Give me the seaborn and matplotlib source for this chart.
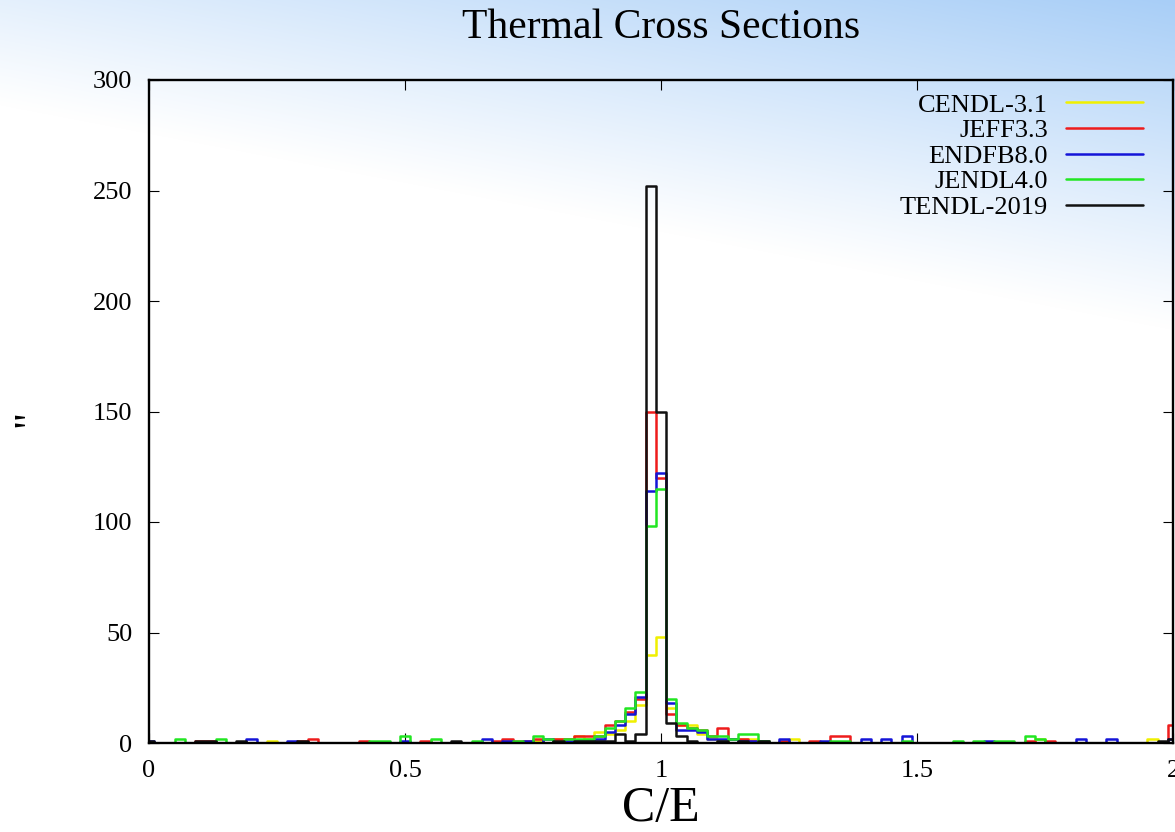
import numpy as np
import pandas as pd
import matplotlib
matplotlib.use("Agg")
import matplotlib.pyplot as plt
import seaborn as sns
from matplotlib.lines import Line2D

# ---- data: C/E histogram counts, bins of width 0.02 centred on multiples of 0.02 ----
libraries = ["CENDL-3.1", "JEFF3.3", "ENDFB8.0", "JENDL4.0", "TENDL-2019"]
colors = ["#f0f000", "#ee1c1c", "#1414d8", "#22e622", "#111111"]

cendl_ce = [0.24, 0.76, 0.80, 0.82, 0.84, 0.86, 0.88, 0.90, 0.92, 0.94, 0.96, 0.98,
            1.00, 1.02, 1.04, 1.06, 1.08, 1.10, 1.12, 1.14, 1.16, 1.18, 1.20, 1.26,
            1.74, 1.96]
cendl_n = [1, 1, 2, 2, 3, 2, 5, 4, 6, 10, 17, 40,
           48, 16, 8, 8, 4, 2, 1, 2, 2, 2, 1, 2,
           2, 2]

jeff_ce = [0.10, 0.12, 0.30, 0.32, 0.42, 0.54, 0.68, 0.70, 0.72, 0.74, 0.76, 0.80,
           0.82, 0.84, 0.86, 0.88, 0.90, 0.92, 0.94, 0.96, 0.98, 1.00, 1.02, 1.04,
           1.06, 1.08, 1.10, 1.12, 1.14, 1.16, 1.18, 1.20, 1.24, 1.30, 1.34, 1.36,
           1.72, 1.76, 2.00]
jeff_n = [1, 1, 1, 2, 1, 1, 1, 2, 1, 1, 2, 2,
          2, 3, 3, 3, 8, 10, 14, 20, 150, 120, 13, 8,
          7, 6, 3, 7, 2, 2, 1, 1, 1, 1, 3, 3,
          1, 1, 8]

endfb_ce = [0.00, 0.20, 0.28, 0.50, 0.66, 0.70, 0.74, 0.78, 0.82, 0.84, 0.86, 0.88,
            0.90, 0.92, 0.94, 0.96, 0.98, 1.00, 1.02, 1.04, 1.06, 1.08, 1.10, 1.12,
            1.14, 1.16, 1.18, 1.20, 1.24, 1.32, 1.40, 1.44, 1.48, 1.64, 1.82, 1.88,
            2.00]
endfb_n = [1, 2, 1, 1, 2, 1, 1, 2, 1, 1, 1, 2,
           5, 8, 13, 21, 114, 122, 18, 6, 6, 5, 2, 2,
           2, 1, 1, 1, 2, 1, 2, 2, 3, 1, 2, 2,
           2]

jendl_ce = [0.06, 0.14, 0.44, 0.46, 0.50, 0.56, 0.64, 0.72, 0.76, 0.78, 0.82, 0.84,
            0.86, 0.88, 0.90, 0.92, 0.94, 0.96, 0.98, 1.00, 1.02, 1.04, 1.06, 1.08,
            1.10, 1.12, 1.14, 1.16, 1.18, 1.20, 1.34, 1.36, 1.48, 1.58, 1.62, 1.66,
            1.68, 1.72, 1.74]
jendl_n = [2, 2, 1, 1, 3, 2, 1, 1, 3, 2, 2, 2,
           2, 3, 7, 10, 16, 23, 98, 115, 20, 9, 7, 6,
           3, 3, 2, 4, 4, 1, 1, 1, 1, 1, 1, 1,
           1, 3, 2]

tendl_ce = [0.00, 0.10, 0.12, 0.18, 0.30, 0.60, 0.80, 0.84, 0.86, 0.88, 0.90, 0.92,
            0.94, 0.96, 0.98, 1.00, 1.02, 1.04, 1.06, 1.12, 1.16, 1.20, 1.98, 2.00]
tendl_n = [1, 1, 1, 1, 1, 1, 1, 1, 1, 1, 1, 4,
           1, 4, 252, 150, 9, 3, 1, 1, 1, 1, 1, 2]

series = [(cendl_ce, cendl_n), (jeff_ce, jeff_n), (endfb_ce, endfb_n),
          (jendl_ce, jendl_n), (tendl_ce, tendl_n)]

x_ticks = [0, 0.5, 1, 1.5, 2]
x_tick_labels = ["0", "0.5", "1", "1.5", "2"]
y_ticks = [0, 50, 100, 150, 200, 250, 300]

# ---- style ----
sns.set_style("ticks")
plt.rcParams["font.family"] = ["Liberation Serif", "DejaVu Serif"]
plt.rcParams["axes.edgecolor"] = "black"
plt.rcParams["text.color"] = "black"
plt.rcParams["axes.labelcolor"] = "black"
plt.rcParams["xtick.color"] = "black"
plt.rcParams["ytick.color"] = "black"

W, H = 1175, 832
fig = plt.figure(figsize=(W / 100, H / 100), dpi=100, facecolor="white")

# soft blue wash coming in from the top-right corner
yy, xx = np.mgrid[0:H, 0:W]
t = np.clip((105 + 225 * xx / W - yy) / 330.0, 0, 1) ** 1.05
top_rgb = np.array([168, 206, 247]) / 255.0
grad = 1 - t[..., None] * (1 - top_rgb)
bg = fig.add_axes([0, 0, 1, 1], zorder=0)
bg.imshow(grad, extent=[0, 1, 0, 1], aspect="auto", origin="upper")
bg.axis("off")

left, right, top, bottom = 149, 1173, 80, 743
ax = fig.add_axes([left / W, (H - bottom) / H, (right - left) / W, (bottom - top) / H], zorder=1)
ax.set_facecolor("none")

# bin edges at odd multiples of 0.01, from -0.01 to 2.01
edges = [round(-0.01 + 0.02 * i, 2) for i in range(102)]
for name, color, (ce, n) in zip(libraries, colors, series):
    df = pd.DataFrame({"ce": ce, "count": n})
    sns.histplot(data=df, x="ce", weights="count", bins=edges, element="step",
                 fill=False, color=color, linewidth=1.8, ax=ax)

ax.set_xlim(0, 2)
ax.set_ylim(0, 300)
ax.set_xticks(x_ticks)
ax.set_xticklabels(x_tick_labels)
ax.set_yticks(y_ticks)
ax.tick_params(axis="both", direction="in", length=7, width=0.8, top=True, right=True,
               labelsize=19, color="black", labelcolor="black")
ax.tick_params(axis="y", pad=12)
ax.tick_params(axis="x", pad=12)
for s in ax.spines.values():
    s.set_linewidth(1.7)
    s.set_color("black")

ax.set_xlabel("C/E", fontsize=36, labelpad=3)
ax.set_ylabel('"', fontsize=30, va="center", rotation=90)
ax.yaxis.set_label_coords(-(left - 31) / (right - left), 0.49)
ax.set_title("Thermal Cross Sections", fontsize=30, pad=30)

handles = [Line2D([0], [0], color=c, lw=1.8) for c in colors]
ax.legend(handles, libraries, loc="upper right", bbox_to_anchor=(0.9707, 0.980),
          frameon=False, markerfirst=False, fontsize=19, handlelength=2.9,
          handletextpad=0.7, labelspacing=0.08, borderpad=0, borderaxespad=0)

fig.savefig("out.png", dpi=100)
